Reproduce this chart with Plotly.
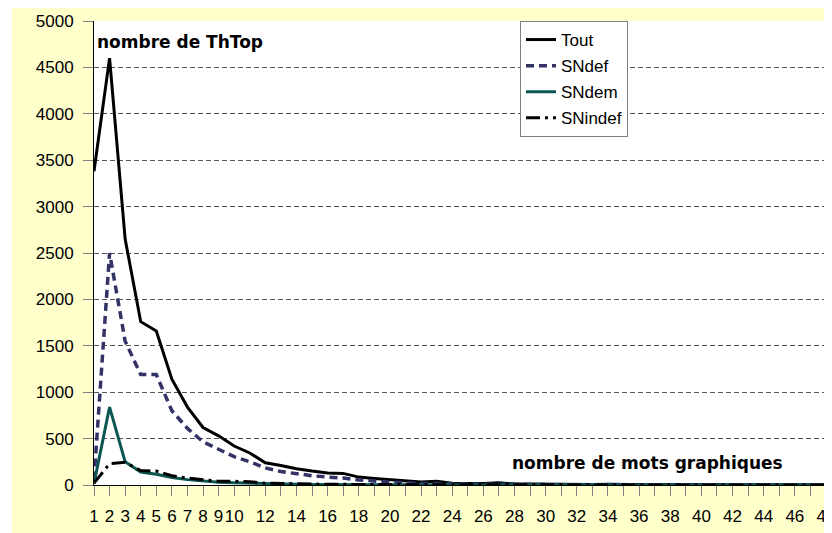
import plotly.graph_objects as go

# ---------------- data ----------------
categories = list(range(1, 49))

x_tick_labels = ["1", "2", "3", "4", "5", "6", "7", "8", "9", "10",
                 "", "12", "", "14", "", "16", "", "18", "", "20",
                 "", "22", "", "24", "", "26", "", "28", "", "30",
                 "", "32", "", "34", "", "36", "", "38", "", "40",
                 "", "42", "", "44", "", "46", "", "48"]

tout = [3380, 4600, 2650, 1760, 1660, 1140, 840, 620, 530, 420,
        345, 240, 210, 175, 150, 130, 125, 85, 70, 60,
        50, 32, 40, 20, 15, 15, 25, 10, 10, 8,
        8, 5, 5, 8, 5, 5, 3, 5, 3, 3,
        3, 3, 2, 2, 2, 2, 1, 2]

sndef = [60, 2500, 1550, 1190, 1190, 800, 610, 465, 385, 305,
         250, 185, 145, 120, 100, 85, 75, 55, 40, 30,
         25, 15, 15, 10, 10, 8, 8, 5, 5, 5,
         3, 3, 3, 3, 2, 2, 2, 2, 2, 1,
         1, 1, 1, 1, 1, 1, 1, 1]

sndem = [15, 840, 250, 140, 115, 80, 58, 42, 30, 25,
         20, 12, 10, 8, 6, 5, 5, 4, 3, 3,
         2, 2, 2, 2, 2, 1, 2, 1, 1, 1,
         1, 1, 1, 1, 1, 1, 1, 1, 1, 1,
         1, 1, 1, 1, 1, 1, 1, 1]

snindef = [20, 230, 245, 155, 150, 100, 75, 55, 40, 40,
           35, 20, 15, 12, 10, 8, 6, 5, 4, 4,
           3, 3, 3, 2, 2, 2, 2, 2, 1, 1,
           1, 1, 1, 1, 1, 1, 1, 1, 1, 1,
           1, 1, 1, 1, 1, 1, 1, 1]

y_title = "nombre de ThTop"
x_title = "nombre de mots graphiques"

# ---------------- figure ----------------
# The page body has an 8px margin, so the figure starts at (8, 8) in the window.
OFF = 8
W, H = 832 - OFF, 533 - OFF
L, T = 94 - OFF, 21 - OFF
R = W - (828 - OFF)
B = H - (485 - OFF)
pw, ph = W - L - R, H - T - B

def px_x(x):
    """window pixel x -> paper fraction"""
    return (x - OFF - L) / pw

def px_y(y):
    """window pixel y -> paper fraction"""
    return (H - B - (y - OFF)) / ph

fig = go.Figure()

fig.add_trace(go.Scatter(x=categories, y=tout, name="Tout", mode="lines",
                         line=dict(color="#000000", width=3), legendgroup="a"))
fig.add_trace(go.Scatter(x=categories, y=sndef, name="SNdef", mode="lines",
                         line=dict(color="#333366", width=3.5, dash="8px,5px"), legendgroup="b"))
fig.add_trace(go.Scatter(x=categories, y=sndem, name="SNdem", mode="lines",
                         line=dict(color="#0b5650", width=3), legendgroup="c"))
fig.add_trace(go.Scatter(x=categories, y=snindef, name="SNindef", mode="lines",
                         line=dict(color="#000000", width=3, dash="14px,5px,3px,5px"), legendgroup="d"))

tick_font = dict(family="Liberation Sans, Arial, sans-serif", size=17, color="#000000")
bold_font = dict(family="DejaVu Sans, Verdana, sans-serif", size=17, color="#000000")

fig.update_layout(
    width=W, height=H,
    margin=dict(l=L, r=R, t=T, b=B, autoexpand=False),
    paper_bgcolor="#FFFFCC",
    plot_bgcolor="#FFFFFF",
    showlegend=True,
    legend=dict(
        x=px_x(520), y=px_y(21), xanchor="left", yanchor="top",
        bgcolor="#FFFFFF", bordercolor="#808080", borderwidth=1,
        font=dict(family="Liberation Sans, Arial, sans-serif", size=17, color="#000000"),
        traceorder="grouped", tracegroupgap=1, itemwidth=30,
    ),
    xaxis=dict(
        range=[1, 48.128], tickmode="array", tickvals=categories, ticktext=x_tick_labels,
        showgrid=False, zeroline=False, showline=True, linecolor="#000000", linewidth=1,
        ticks="outside", ticklen=10, tickcolor="#808080", tickwidth=1,
        tickfont=tick_font, tickangle=0, automargin=False, ticklabelstandoff=6,
        ticklabeloverflow="allow",
    ),
    yaxis=dict(
        range=[0, 5000], tickmode="linear", tick0=0, dtick=500,
        showgrid=True, gridcolor="#555555", gridwidth=1, griddash="5px,3px",
        zeroline=False, showline=True, linecolor="#000000", linewidth=1,
        ticks="outside", ticklen=10, tickcolor="#808080", tickwidth=1,
        tickfont=tick_font, automargin=False, ticklabelstandoff=6,
    ),
    shapes=[
        # white strip left of the yellow chart area
        dict(type="rect", xref="paper", yref="paper", layer="below",
             x0=px_x(OFF), x1=px_x(12), y0=px_y(533), y1=px_y(OFF),
             fillcolor="#FFFFFF", line=dict(width=0)),
    ],
    annotations=[
        dict(text=f"<b>{y_title}</b>", xref="paper", yref="paper",
             x=px_x(95), y=px_y(42), xanchor="left", yanchor="middle",
             showarrow=False, font=bold_font),
        dict(text=f"<b>{x_title}</b>", xref="paper", yref="paper",
             x=px_x(647), y=px_y(463), xanchor="center", yanchor="middle",
             showarrow=False, font=bold_font),
    ],
)

fig.write_html("out.html")
